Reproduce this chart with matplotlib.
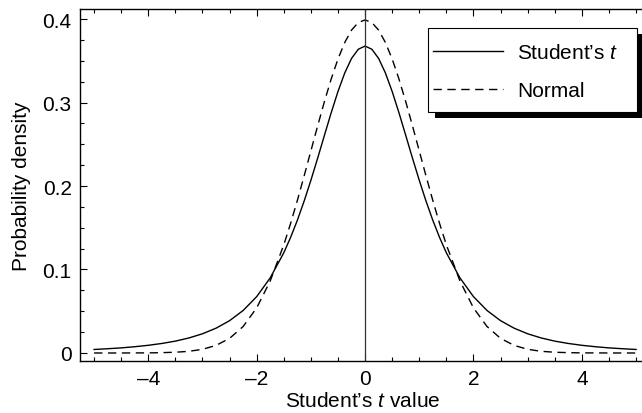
import matplotlib
matplotlib.use('Agg')
import matplotlib.pyplot as plt
from matplotlib.patches import Rectangle
from matplotlib.ticker import MultipleLocator

plt.rcParams['font.family'] = ['Liberation Sans', 'DejaVu Sans']
plt.rcParams['mathtext.fontset'] = 'custom'
plt.rcParams['mathtext.it'] = 'Liberation Sans:italic'
plt.rcParams['mathtext.rm'] = 'Liberation Sans'

# values (denser sampling near the peak)
t_values = [-5.0, -4.75, -4.5, -4.25, -4.0, -3.75, -3.5, -3.25, -3.0, -2.75,
            -2.5, -2.25, -2.0, -1.75, -1.5, -1.375, -1.25, -1.125, -1.0, -0.875,
            -0.75, -0.625, -0.5, -0.375, -0.25, -0.125,
            0.0, 0.125, 0.25, 0.375, 0.5, 0.625, 0.75, 0.875, 1.0, 1.125,
            1.25, 1.375, 1.5, 1.75, 2.0, 2.25,
            2.5, 2.75, 3.0, 3.25, 3.5, 3.75, 4.0, 4.25, 4.5, 4.75, 5.0]

student_density = [0.0042, 0.0051, 0.0061, 0.0075, 0.0092, 0.0114, 0.0142, 0.0180, 0.0230, 0.0297,
                   0.0387, 0.0509, 0.0675, 0.0900, 0.1200, 0.1383, 0.1589, 0.1818, 0.2068, 0.2333,
                   0.2607, 0.2878, 0.3132, 0.3354, 0.3528, 0.3638,
                   0.3676, 0.3638, 0.3528, 0.3354, 0.3132, 0.2878, 0.2607, 0.2333, 0.2068, 0.1818,
                   0.1589, 0.1383, 0.1200, 0.0900, 0.0675, 0.0509,
                   0.0387, 0.0297, 0.0230, 0.0180, 0.0142, 0.0114, 0.0092, 0.0075, 0.0061, 0.0051, 0.0042]

normal_density = [0.0000, 0.0000, 0.0000, 0.0001, 0.0001, 0.0004, 0.0009, 0.0020, 0.0044, 0.0091,
                  0.0175, 0.0317, 0.0540, 0.0863, 0.1295, 0.1550, 0.1826, 0.2119, 0.2420, 0.2720,
                  0.3011, 0.3282, 0.3521, 0.3719, 0.3867, 0.3958,
                  0.3989, 0.3958, 0.3867, 0.3719, 0.3521, 0.3282, 0.3011, 0.2720, 0.2420, 0.2119,
                  0.1826, 0.1550, 0.1295, 0.0863, 0.0540, 0.0317,
                  0.0175, 0.0091, 0.0044, 0.0020, 0.0009, 0.0004, 0.0001, 0.0001, 0.0000, 0.0000, 0.0000]

x_ticks = [-4, -2, 0, 2, 4]
y_ticks = [0, 0.1, 0.2, 0.3, 0.4]
y_tick_labels = ['0', '0.1', '0.2', '0.3', '0.4']

fig = plt.figure(figsize=(6.42, 4.14), dpi=100)
ax = fig.add_axes([80 / 642, 1 - 362 / 414, 565 / 642, 352 / 414])

ax.plot(t_values, student_density, color='black', lw=1.0, label="Student\u2019s $\\it{t}$")
ax.plot(t_values, normal_density, color='black', lw=1.0, dashes=(6, 4), label='Normal')
ax.axvline(0, color='#333333', lw=0.9)

ax.set_xlim(-5.26, 5.165)
ax.set_ylim(-0.0096, 0.412)
ax.set_xticks(x_ticks)
ax.set_xticklabels(['\u2013' + str(abs(v)) if v < 0 else str(v) for v in x_ticks])
ax.set_yticks(y_ticks)
ax.set_yticklabels(y_tick_labels)
ax.xaxis.set_minor_locator(MultipleLocator(0.5))
ax.yaxis.set_minor_locator(MultipleLocator(0.025))
ax.tick_params(which='both', direction='in', top=True, right=False, labelsize=15, width=0.8)
ax.tick_params(which='major', length=5, pad=6)
ax.tick_params(which='minor', length=3)
for s in ax.spines.values():
    s.set_linewidth(1.0)

ax.set_xlabel("Student\u2019s $\\it{t}$ value", fontsize=15, labelpad=2)
ax.set_ylabel('Probability density', fontsize=15, labelpad=8)

# legend box with a solid black drop shadow
box_x, box_y, box_w, box_h = 0.616, 0.707, 0.370, 0.239
ax.add_patch(Rectangle((box_x + 0.0124, box_y - 0.017), box_w, box_h, transform=ax.transAxes,
                       facecolor='black', edgecolor='none', clip_on=False, zorder=4))
ax.add_patch(Rectangle((box_x, box_y), box_w, box_h, transform=ax.transAxes,
                       facecolor='white', edgecolor='black', lw=0.8, clip_on=False, zorder=5))

leg = ax.legend(loc='upper left', bbox_to_anchor=(0.6248, 0.902), borderaxespad=0,
                borderpad=0, fontsize=15, handlelength=3.35, handletextpad=0.67,
                labelspacing=0.9, frameon=False)
leg.set_zorder(6)

fig.savefig('out.png', dpi=100)
